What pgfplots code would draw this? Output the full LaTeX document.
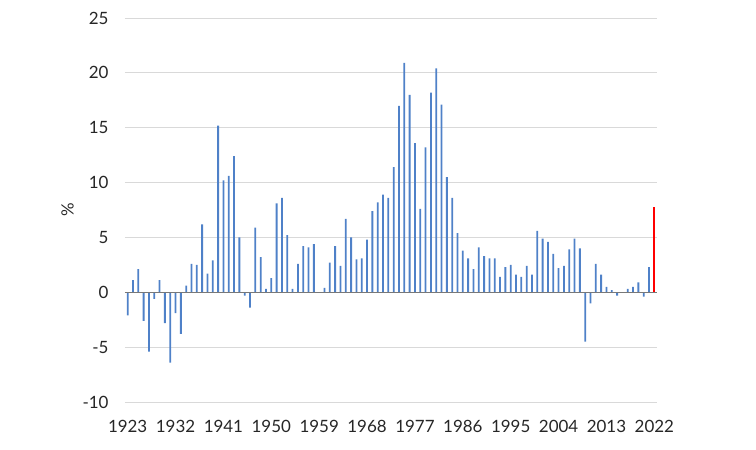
\documentclass[border=0pt]{standalone}
\usepackage{pgfplots}
\pgfplotsset{compat=1.18}
\usepackage{pgfplotstable}
\usepackage{fontspec}
\setmainfont{Lato}
\definecolor{barblue}{RGB}{79,129,200}
\definecolor{gridgray}{RGB}{217,217,217}
\definecolor{zerogray}{RGB}{120,120,120}
\pgfplotstableread{
year val
1923 -2.1
1924 1.1
1925 2.1
1926 -2.6
1927 -5.4
1928 -0.6
1929 1.1
1930 -2.8
1931 -6.4
1932 -1.9
1933 -3.8
1934 0.6
1935 2.6
1936 2.5
1937 6.2
1938 1.7
1939 2.9
1940 15.2
1941 10.2
1942 10.6
1943 12.4
1944 5.0
1945 -0.3
1946 -1.4
1947 5.9
1948 3.2
1949 0.3
1950 1.3
1951 8.1
1952 8.6
1953 5.2
1954 0.3
1955 2.6
1956 4.2
1957 4.1
1958 4.4
1959 0
1960 0.4
1961 2.7
1962 4.2
1963 2.4
1964 6.7
1965 5.0
1966 3.0
1967 3.1
1968 4.8
1969 7.4
1970 8.2
1971 8.9
1972 8.6
1973 11.4
1974 17.0
1975 20.9
1976 18.0
1977 13.6
1978 7.6
1979 13.2
1980 18.2
1981 20.4
1982 17.1
1983 10.5
1984 8.6
1985 5.4
1986 3.8
1987 3.1
1988 2.1
1989 4.1
1990 3.3
1991 3.1
1992 3.1
1993 1.4
1994 2.3
1995 2.5
1996 1.6
1997 1.4
1998 2.4
1999 1.6
2000 5.6
2001 4.9
2002 4.6
2003 3.5
2004 2.2
2005 2.4
2006 3.9
2007 4.9
2008 4.0
2009 -4.5
2010 -1.0
2011 2.6
2012 1.6
2013 0.5
2014 0.2
2015 -0.3
2016 0
2017 0.3
2018 0.5
2019 0.9
2020 -0.4
2021 2.3
}\datatable
\pgfplotstableread{
year val
2022 7.8
}\lasttable
\begin{document}
\begin{tikzpicture}
\path[use as bounding box] (-125bp,-48bp) rectangle (631bp,402bp);
\begin{axis}[
  at={(0,0)}, anchor=south west,
  scale only axis, width=532bp, height=384bp,
  xmin=1922.5, xmax=2022.5,
  ymin=-10, ymax=25,
  ytick={-10,-5,0,5,10,15,20,25},
  xtick={1923,1932,1941,1950,1959,1968,1977,1986,1995,2004,2013,2022},
  axis line style={draw=none},
  tick style={draw=none},
  ymajorgrids, grid style={gridgray, line width=0.9bp},
  /pgf/number format/assume math mode=true,
  /pgf/number format/1000 sep={},
  ticklabel style={font=\fontsize{17}{20}\selectfont, text=black!85},
  yticklabel style={xshift=-13bp},
  xticklabel style={yshift=-10bp},
  ylabel={\%}, ylabel style={font=\fontsize{17}{20}\selectfont, text=black!85, yshift=2bp},
  ybar, bar width=1.8bp,
  clip=false,
]
\addplot[draw=none, fill=barblue, bar shift=0pt] table[x=year,y=val]{\datatable};
\addplot[draw=none, fill=red, bar shift=0pt] table[x=year,y=val]{\lasttable};
\draw[zerogray, line width=1.4bp] (axis cs:1922.5,0) -- (axis cs:2022.5,0);
\end{axis}
\end{tikzpicture}
\end{document}
